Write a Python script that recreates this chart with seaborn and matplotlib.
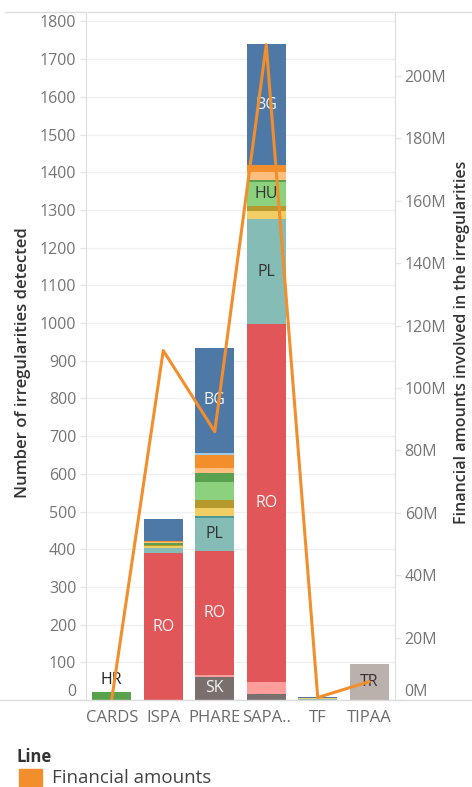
import numpy as np
import pandas as pd
import matplotlib.pyplot as plt
import matplotlib.patches as mpatches
import matplotlib.lines as mlines
from matplotlib.ticker import FuncFormatter
import seaborn as sns

# programmes on the x axis
programmes = ["CARDS", "ISPA", "PHARE", "SAPARD", "TF", "TIPAA"]
tick_labels = ["CARDS", "ISPA", "PHARE", "SAPA..", "TF", "TIPAA"]

# number of irregularities per country (CARDS, ISPA, PHARE, SAPARD, TF, TIPAA)
countries = ["BG", "CY", "CZ", "EE", "HR", "HU", "LT", "LV", "MT", "PL", "RO", "SI", "SK", "TR"]
bg = [0, 58, 279, 320, 2, 0]
cy = [0, 0, 5, 0, 0, 0]
cz = [0, 3, 34, 18, 0, 0]
ee = [0, 3, 13, 22, 0, 0]
hr = [21, 4, 25, 4, 0, 0]
hu = [0, 0, 48, 64, 0, 0]
lt = [0, 4, 20, 14, 1, 0]
lv = [0, 4, 21, 21, 2, 0]
mt = [0, 0, 5, 0, 0, 0]
pl = [0, 15, 88, 279, 2, 0]
ro = [0, 389, 330, 950, 0, 0]
si = [0, 0, 4, 32, 0, 0]
sk = [0, 0, 62, 15, 0, 0]
tr = [0, 0, 0, 0, 0, 96]

# financial amounts involved (millions)
financial_m = [0.3, 112, 86, 210, 0.8, 5.9]

# tableau 20 colours
colors = {
    "BG": "#4e79a7", "CY": "#a0cbe8", "CZ": "#f28e2b", "EE": "#ffbe7d",
    "HR": "#59a14f", "HU": "#8cd17d", "LT": "#b6992d", "LV": "#f1ce63",
    "MT": "#499894", "PL": "#86bcb6", "RO": "#e15759", "SI": "#ff9d9a",
    "SK": "#79706e", "TR": "#bab0ac",
}
light_text = ["BG", "RO", "SK"]

values = [bg, cy, cz, ee, hr, hu, lt, lv, mt, pl, ro, si, sk, tr]
rows = []
for c, vals in zip(countries, values):
    for p, v in zip(programmes, vals):
        rows.append({"programme": p, "country": c, "count": v})
df = pd.DataFrame(rows)

# stack from the bottom (last country) to the top (first country)
df["rank"] = df["country"].map({c: i for i, c in enumerate(countries)})
df = df.sort_values(["programme", "rank"], ascending=[True, False])
df["top"] = df.groupby("programme")["count"].cumsum()
df["base"] = df["top"] - df["count"]

sns.set_style("white")
plt.rcParams['font.family'] = ['Open Sans', 'DejaVu Sans']

fig = plt.figure(figsize=(4.72, 7.87), dpi=100)
ax = fig.add_axes([86 / 472, 87 / 787, 309 / 472, 688 / 787])

# draw cumulative bars, tallest first
for c in countries:
    layer = df[df["country"] == c]
    sns.barplot(data=layer, x="programme", y="top", order=programmes, color=colors[c],
                saturation=1, width=0.75, errorbar=None, linewidth=0, ax=ax)

# segment labels
for _, r in df.iterrows():
    i = programmes.index(r["programme"])
    if r["count"] >= 60:
        col = "#f3f3f3" if r["country"] in light_text else "#333333"
        ax.text(i, r["base"] + r["count"] / 2, r["country"], ha="center", va="center",
                fontsize=11.5, color=col, zorder=5)
    elif r["count"] > 0 and r["count"] == df[df["programme"] == r["programme"]]["count"].sum():
        ax.annotate(r["country"], (i, r["top"]), xytext=(0, 3), textcoords="offset points",
                    ha="center", va="bottom", fontsize=11.5, color="#222222")

ax.set_xlim(-0.5, 5.5)
ax.set_ylim(0, 1825)
ax.set_yticks(np.arange(0, 1801, 100))
ax.set_xticks(range(len(programmes)))
ax.set_xticklabels(tick_labels)
ax.set_xticks(np.arange(-0.5, 6, 1), minor=True)
ax.tick_params(axis="x", which="major", length=0, pad=7, labelsize=12, labelcolor="#6b6b6b")
ax.tick_params(axis="x", which="minor", length=22, width=1, color="#e6e6e6")
ax.tick_params(axis="y", length=4, width=1, color="#e6e6e6", labelsize=11.5,
               labelcolor="#757575", pad=3)
ax.yaxis.grid(True, color="#f0f0f0", linewidth=1)
ax.set_axisbelow(True)
ax.set_xlabel("")
ax.set_ylabel("Number of irregularities detected", fontsize=12, color="#333333",
              fontweight="semibold")
ax.yaxis.set_label_coords(-0.177, 0.49)
for s in ["top", "right", "bottom"]:
    ax.spines[s].set_visible(False)
ax.spines["left"].set_color("#dddddd")
ax.get_yticklabels()[0].set_va("bottom")

# financial amounts line on the right axis
ax2 = ax.twinx()
sns.lineplot(x=np.arange(len(programmes)), y=np.array(financial_m) * 1e6, color="#f28e2b",
             linewidth=2.2, ax=ax2)
ax2.set_ylim(0, 220.5e6)
ax2.set_yticks(np.arange(0, 201e6, 20e6))
ax2.yaxis.set_major_formatter(FuncFormatter(lambda v, p: f"{v / 1e6:.0f}M"))
ax2.tick_params(axis="y", length=4, width=1, color="#e6e6e6", labelsize=11.5,
                labelcolor="#757575", pad=3)
ax2.set_ylabel("Financial amounts involved in the irregularities", fontsize=11.5,
               color="#333333", fontweight="semibold")
ax2.yaxis.set_label_coords(1.192, 0.52)
for s in ["top", "left", "bottom"]:
    ax2.spines[s].set_visible(False)
ax2.spines["right"].set_color("#dddddd")
ax2.get_yticklabels()[0].set_va("bottom")

# header rule and baseline
fig.add_artist(mlines.Line2D([5 / 472, 1], [775 / 787, 775 / 787], color="#dddddd", lw=1))
fig.add_artist(mlines.Line2D([0, 1], [87 / 787, 87 / 787], color="#dddddd", lw=1))

# legend
fig.text(17 / 472, 1 - 757 / 787, "Line", fontsize=12, fontweight="bold", color="#333333",
         va="center", ha="left")
fig.add_artist(mpatches.Rectangle((19 / 472, 1 - 786 / 787), 23 / 472, 17 / 787,
                                  color="#f28e2b", transform=fig.transFigure))
fig.text(52 / 472, 1 - 778 / 787, "Financial amounts", fontsize=13.5, color="#444444",
         va="center", ha="left")

fig.savefig("out.png", dpi=100)
